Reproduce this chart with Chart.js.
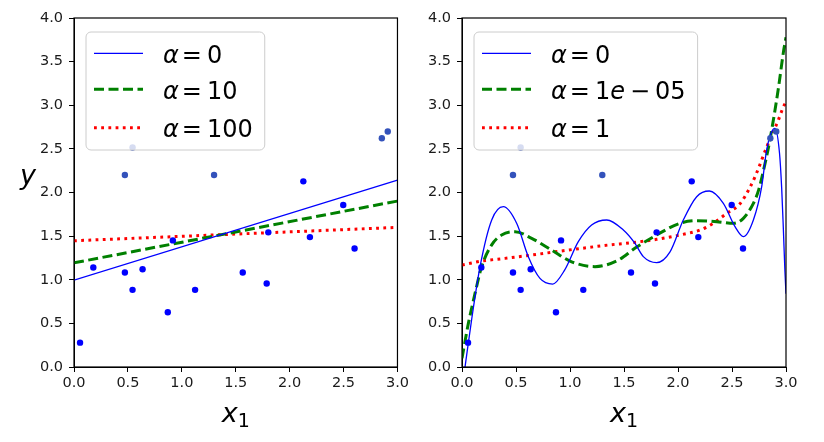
<!DOCTYPE html>
<html>
<head>
<meta charset="utf-8">
<script src="https://cdn.jsdelivr.net/npm/chart.js"></script>
<style>
  html, body { margin: 0; padding: 0; background: #fff; }
  #wrap { position: relative; width: 824px; height: 442px; }
  canvas { position: absolute; top: 0; }
</style>
</head>
<body>
<div id="wrap">
  <canvas id="leftChart" width="412" height="442" style="left:0px"></canvas>
  <canvas id="rightChart" width="412" height="442" style="left:412px"></canvas>
</div>
<script>
// training points (blue) and the darker ones
const ptsX = [0.056, 0.179, 0.472, 0.543, 0.636, 0.870, 0.917, 1.123, 1.565, 1.787, 1.802, 2.127, 2.188, 2.497, 2.602];
const ptsY = [0.279, 1.141, 1.083, 0.884, 1.121, 0.628, 1.451, 0.884, 1.083, 0.957, 1.543, 2.128, 1.489, 1.856, 1.359];
const darkX = [0.472, 0.543, 1.299, 2.855, 2.910];
const darkY = [2.201, 2.515, 2.201, 2.622, 2.699];

// left panel: plain ridge lines
const linX = [0, 3];
const linY_a0 = [0.995, 2.143];
const linY_a10 = [1.194, 1.902];
const linY_a100 = [1.447, 1.600];
const leftLabels = ['α = 0', 'α = 10', 'α = 100'];

// right panel: polynomial ridge curves
const polyX_a0 = [0, 0.028, 0.09, 0.167, 0.275, 0.383, 0.506, 0.614, 0.722, 0.84, 0.95, 1.077, 1.2, 1.34, 1.494, 1.60, 1.679, 1.802, 1.926, 2.049, 2.173, 2.29, 2.42, 2.528, 2.605, 2.698, 2.775, 2.821, 2.867, 2.898, 2.94, 2.96, 2.975, 2.99, 3.0];
const polyY_a0 = [-0.25, 0.0, 0.55, 1.15, 1.685, 1.837, 1.647, 1.265, 1.016, 0.951, 1.11, 1.436, 1.627, 1.685, 1.57, 1.42, 1.265, 1.196, 1.32, 1.685, 1.952, 2.017, 1.876, 1.608, 1.494, 1.685, 2.067, 2.49, 2.697, 2.736, 2.45, 2.05, 1.6, 1.1, 0.84];
const polyX_a1e5 = [0, 0.059, 0.12, 0.182, 0.275, 0.367, 0.491, 0.645, 0.83, 1.015, 1.231, 1.447, 1.6, 1.802, 2.018, 2.173, 2.358, 2.512, 2.605, 2.698, 2.747, 2.80, 2.84, 2.883, 2.932, 2.975, 3.0];
const polyY_a1e5 = [0.1, 0.5, 0.84, 1.15, 1.4, 1.513, 1.551, 1.475, 1.34, 1.206, 1.15, 1.225, 1.36, 1.513, 1.647, 1.677, 1.666, 1.647, 1.704, 1.876, 2.03, 2.3, 2.53, 2.83, 3.215, 3.6, 3.78];
const polyX_a1 = [0, 0.182, 0.398, 0.645, 0.861, 1.108, 1.355, 1.571, 1.802, 2.018, 2.204, 2.327, 2.451, 2.574, 2.667, 2.72, 2.821, 2.929, 2.975, 3.0];
const polyY_a1 = [1.168, 1.214, 1.245, 1.283, 1.32, 1.36, 1.398, 1.425, 1.463, 1.513, 1.57, 1.647, 1.761, 1.87, 2.06, 2.2, 2.52, 2.83, 2.98, 3.04];
const rightLabels = ['α = 0', 'α = 1e − 05', 'α = 1'];

const xTicks = [0, 0.5, 1, 1.5, 2, 2.5, 3];
const yTicks = [0, 0.5, 1, 1.5, 2, 2.5, 3, 3.5, 4];

const FONT = '"DejaVu Sans"';

function toPts(xs, ys) {
  return xs.map((x, i) => ({x: x, y: ys[i]}));
}

// draws things like "α = 1e − 05", letters in italic like mathtext
function mathText(ctx, str, x, y, size, draw) {
  let cx = x;
  const toks = str.split(' ');
  toks.forEach((tok, ti) => {
    for (const ch of tok) {
      const it = /[a-zα]/.test(ch);
      ctx.font = (it ? 'italic ' : '') + size + 'px ' + FONT;
      if (draw) ctx.fillText(ch, cx, y);
      cx += ctx.measureText(ch).width;
    }
    if (ti < toks.length - 1) cx += (tok === 'α' ? 3 : 5);
  });
  return cx - x;
}

const lineStyles = [
  {borderColor: '#0000ff', borderWidth: 1.3, borderDash: []},
  {borderColor: '#008000', borderWidth: 3, borderDash: [10, 4.5]},
  {borderColor: '#ff0000', borderWidth: 3, borderDash: [2.8, 4.4]}
];

const mplPlugin = {
  id: 'mpl',
  afterDraw(chart, args, opts) {
    const ctx = chart.ctx;
    const a = chart.chartArea;
    ctx.save();
    // spines
    ctx.strokeStyle = '#000';
    ctx.lineWidth = 1.2;
    ctx.strokeRect(a.left, a.top, a.right - a.left, a.bottom - a.top);

    // legend
    const lx = a.left + 12, ly = a.top + 14;
    const tw = Math.max.apply(null, opts.labels.map(l => mathText(ctx, l, 0, 0, 24, false)));
    const w = 77 + tw + 12, h = 118;
    ctx.beginPath();
    ctx.roundRect(lx, ly, w, h, 5);
    ctx.fillStyle = 'rgba(255,255,255,0.8)';
    ctx.fill();
    ctx.strokeStyle = '#cccccc';
    ctx.lineWidth = 1;
    ctx.stroke();
    const rows = [21.3, 57.3, 95.7];
    opts.labels.forEach((lab, i) => {
      const st = lineStyles[i];
      const yy = ly + rows[i];
      ctx.beginPath();
      ctx.setLineDash(st.borderDash);
      ctx.lineCap = 'butt';
      ctx.strokeStyle = st.borderColor;
      ctx.lineWidth = st.borderWidth;
      ctx.moveTo(lx + 8, yy);
      ctx.lineTo(lx + 57, yy);
      ctx.stroke();
      ctx.setLineDash([]);
      ctx.fillStyle = '#000';
      ctx.textBaseline = 'alphabetic';
      ctx.textAlign = 'left';
      mathText(ctx, lab, lx + 77, yy + 9.5, 24, true);
    });

    // axis labels
    ctx.fillStyle = '#000';
    ctx.textAlign = 'left';
    ctx.textBaseline = 'alphabetic';
    const cxm = (a.left + a.right) / 2;
    ctx.font = 'italic 27px ' + FONT;
    const xw = ctx.measureText('x').width;
    ctx.font = '19px ' + FONT;
    const sw = ctx.measureText('1').width;
    const x0 = cxm - (xw + sw) / 2;
    ctx.font = 'italic 27px ' + FONT;
    ctx.fillText('x', x0, 422);
    ctx.font = '19px ' + FONT;
    ctx.fillText('1', x0 + xw, 427);
    if (opts.yLabel) {
      ctx.font = 'italic 27px ' + FONT;
      ctx.fillText('y', 20, 184);
    }
    ctx.restore();
  }
};

function panel(id, lines, labels, leftW, rightPad, yLabel) {
  const datasets = [
    {data: toPts(ptsX, ptsY), showLine: false, pointRadius: 3.2, pointBackgroundColor: '#0000ff', pointBorderWidth: 0},
    {data: toPts(darkX, darkY), showLine: false, pointRadius: 3.2, pointBackgroundColor: '#3352bb', pointBorderWidth: 0}
  ];
  lines.forEach((ln, i) => {
    datasets.push(Object.assign({
      data: toPts(ln[0], ln[1]),
      showLine: true,
      pointRadius: 0,
      borderCapStyle: 'butt',
      cubicInterpolationMode: 'monotone',
      fill: false,
      clip: 0
    }, lineStyles[i]));
  });

  const tickFont = {family: 'DejaVu Sans', size: 14.5};
  return new Chart(document.getElementById(id), {
    type: 'scatter',
    data: {datasets: datasets},
    options: {
      responsive: false,
      animation: false,
      devicePixelRatio: 1,
      events: [],
      layout: {padding: {top: 18, right: rightPad, left: 0, bottom: 0}},
      plugins: {
        legend: {display: false},
        tooltip: {enabled: false},
        mpl: {labels: labels, yLabel: yLabel}
      },
      scales: {
        x: {
          type: 'linear', min: 0, max: 3,
          afterFit: s => { s.height = 75; },
          afterBuildTicks: s => { s.ticks = xTicks.map(v => ({value: v})); },
          grid: {drawOnChartArea: false, drawTicks: true, tickLength: 5, color: '#000'},
          border: {display: true, color: '#000'},
          ticks: {font: tickFont, color: '#1a1a1a', padding: 3, maxRotation: 0, autoSkip: false,
                  callback: v => v.toFixed(1)}
        },
        y: {
          type: 'linear', min: 0, max: 4,
          afterFit: s => { s.width = leftW; },
          afterBuildTicks: s => { s.ticks = yTicks.map(v => ({value: v})); },
          grid: {drawOnChartArea: false, drawTicks: true, tickLength: 5, color: '#000'},
          border: {display: true, color: '#000'},
          ticks: {font: tickFont, color: '#1a1a1a', padding: 6, autoSkip: false,
                  callback: v => v.toFixed(1)}
        }
      }
    },
    plugins: [mplPlugin]
  });
}

panel('leftChart', [[linX, linY_a0], [linX, linY_a10], [linX, linY_a100]], leftLabels, 74, 14, true);
panel('rightChart', [[polyX_a0, polyY_a0], [polyX_a1e5, polyY_a1e5], [polyX_a1, polyY_a1]], rightLabels, 50, 38, false);
</script>
</body>
</html>
